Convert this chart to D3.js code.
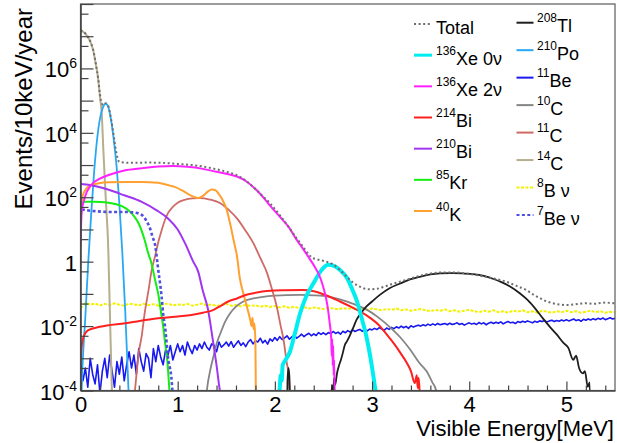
<!DOCTYPE html>
<html>
<head>
<meta charset="utf-8">
<script src="https://cdn.jsdelivr.net/npm/d3@7"></script>
<style>
  body { margin: 0; background: #fff; }
  svg { display: block; }
  text { font-family: "Liberation Sans", Arial, Helvetica, sans-serif; fill: #000; }
</style>
</head>
<body>
<svg id="chart" width="617" height="443"></svg>
<script>
// ---- Spectra: [visible energy (MeV), events / 10 keV / year] ----
const total = [[0,1.5e7],[0.03,1.38e7],[0.06,1.12e7],[0.1,7e6],[0.13,3.8e6],[0.156,1.5e6],[0.183,4.6e5],[0.2,1.6e5],[0.22,8e4],[0.24,7.3e4],[0.26,8.3e4],[0.28,7.5e4],[0.31,3.2e4],[0.34,9000],[0.37,2300],[0.4,1250],[0.5,1180],[0.7,1190],[0.85,1170],[0.95,1110],[1.05,1060],[1.15,1000],[1.26,900],[1.38,760],[1.5,620],[1.61,480],[1.7,330],[1.8,180],[1.88,105],[1.95,65],[2.05,28],[2.15,11],[2.22,5.5],[2.29,2.9],[2.34,1.8],[2.38,1.35],[2.45,1.15],[2.53,1.0],[2.6,0.82],[2.67,0.55],[2.74,0.34],[2.8,0.23],[2.88,0.165],[2.96,0.138],[3.04,0.142],[3.12,0.165],[3.2,0.2],[3.29,0.24],[3.38,0.29],[3.46,0.34],[3.55,0.4],[3.63,0.44],[3.72,0.46],[3.85,0.46],[3.95,0.44],[4.04,0.4],[4.15,0.35],[4.25,0.3],[4.38,0.24],[4.48,0.18],[4.59,0.13],[4.66,0.095],[4.73,0.073],[4.8,0.058],[4.86,0.051],[4.93,0.047],[5.0,0.045],[5.08,0.047],[5.15,0.05],[5.21,0.051],[5.28,0.049],[5.35,0.052],[5.41,0.054],[5.47,0.051],[5.5,0.053]];

const xe136ZeroNu = [[2.02,5e-5],[2.05,1.2e-4],[2.06,3e-4],[2.07,2e-4],[2.08,6e-4],[2.1,8e-4],[2.155,1.6e-3],[2.2,5e-3],[2.26,0.025],[2.32,0.08],[2.4,0.22],[2.47,0.5],[2.55,0.8],[2.6,0.75],[2.64,0.65],[2.7,0.45],[2.74,0.32],[2.8,0.13],[2.84,0.065],[2.9,0.015],[2.94,0.005],[2.99,8e-4],[3.03,1.3e-4],[3.05,5e-5]];

const xe136TwoNu = [[0,3],[0.012,35],[0.045,100],[0.11,240],[0.2,380],[0.29,490],[0.45,680],[0.63,800],[0.8,900],[0.95,930],[1.1,880],[1.26,760],[1.4,620],[1.5,540],[1.61,440],[1.7,320],[1.8,180],[1.88,100],[1.95,55],[2.05,25],[2.15,11],[2.22,5],[2.29,2.5],[2.36,1.2],[2.41,0.7],[2.47,0.3],[2.51,0.12],[2.54,0.045],[2.565,0.012],[2.58,4e-3],[2.585,1.2e-3],[2.59,4e-3],[2.595,6e-4],[2.6,2.5e-3],[2.605,3e-4],[2.61,9e-4],[2.615,1e-4],[2.62,1e-6]];

const bi214 = [[0,7e-4],[0.01,2e-3],[0.03,4.5e-3],[0.08,7.5e-3],[0.2,9.5e-3],[0.46,0.0123],[0.8,0.0174],[1.0,0.02],[1.14,0.022],[1.26,0.026],[1.37,0.032],[1.44,0.042],[1.52,0.058],[1.61,0.072],[1.7,0.092],[1.78,0.105],[1.87,0.118],[1.95,0.126],[2.1,0.13],[2.29,0.132],[2.4,0.12],[2.47,0.105],[2.57,0.08],[2.67,0.058],[2.78,0.04],[2.88,0.028],[2.98,0.018],[3.08,0.01],[3.15,0.0055],[3.22,0.003],[3.29,0.0015],[3.36,7e-4],[3.4,4e-4],[3.44,1.7e-4],[3.46,3e-4],[3.47,1.2e-4],[3.48,2.5e-4],[3.49,8e-5],[3.5,1e-6]];

const bi210 = [[0,260],[0.1,240],[0.29,170],[0.45,115],[0.63,72],[0.78,40],[0.9,22],[1.0,10],[1.08,3.5],[1.16,1.0],[1.21,0.5],[1.26,0.12],[1.31,0.035],[1.36,4e-3],[1.4,6e-4],[1.43,1.2e-4],[1.45,5e-5]];

const kr85 = [[0,40],[0.01,65],[0.05,72],[0.15,72],[0.25,70],[0.355,62],[0.43,52],[0.49,40],[0.55,26],[0.6,15],[0.66,4.7],[0.7,1.7],[0.73,0.9],[0.77,0.25],[0.8,0.1],[0.83,0.025],[0.85,0.01],[0.87,3e-3],[0.89,1.1e-3],[0.91,1.7e-4],[0.92,6e-5]];

const k40 = [[0,20],[0.01,60],[0.03,130],[0.11,240],[0.29,290],[0.5,300],[0.63,300],[0.8,280],[0.92,230],[0.97,210],[1.05,160],[1.1,130],[1.16,105],[1.21,95],[1.26,110],[1.31,150],[1.35,175],[1.39,165],[1.42,130],[1.46,85],[1.5,45],[1.54,15],[1.58,4],[1.61,1.5],[1.64,0.3],[1.67,0.12],[1.7,0.055],[1.73,0.025],[1.75,0.014],[1.76,0.01],[1.77,0.018],[1.78,0.008],[1.79,0.012],[1.8,0.003],[1.805,5e-5]];

const tl208 = [[2.12,1e-6],[2.13,2e-4],[2.14,5e-4],[2.15,2.5e-4],[2.16,1e-6],[2.57,1e-6],[2.585,1.5e-4],[2.6,8e-5],[2.61,2.5e-4],[2.62,1.5e-4],[2.64,3.5e-4],[2.66,6e-4],[2.68,9e-4],[2.7,1.5e-3],[2.72,2.6e-3],[2.74,3.3e-3],[2.77,5e-3],[2.8,8e-3],[2.84,0.0155],[2.89,0.026],[2.94,0.04],[3.0,0.058],[3.08,0.093],[3.18,0.15],[3.29,0.21],[3.39,0.28],[3.49,0.34],[3.6,0.4],[3.7,0.43],[3.82,0.44],[3.93,0.43],[4.04,0.41],[4.15,0.36],[4.25,0.29],[4.32,0.24],[4.42,0.17],[4.52,0.105],[4.6,0.065],[4.69,0.032],[4.76,0.017],[4.83,0.0095],[4.9,0.0055],[4.97,0.003],[5.02,0.0021],[5.07,9e-4],[5.1,1.2e-3],[5.13,5e-4],[5.17,3.4e-4],[5.19,4e-4],[5.22,1.3e-4],[5.24,1.8e-4],[5.25,1e-6]];

const po210 = [[0,1e-5],[0.02,5e-4],[0.05,0.02],[0.08,1],[0.11,30],[0.14,600],[0.17,6000],[0.2,2.7e4],[0.23,6e4],[0.255,8e4],[0.28,7e4],[0.31,3e4],[0.34,7000],[0.37,1000],[0.4,60],[0.43,2],[0.46,0.03],[0.49,2e-4],[0.52,1e-6]];

const c10 = [[1.29,5e-5],[1.3,1e-4],[1.34,5e-4],[1.37,1.2e-3],[1.4,2.8e-3],[1.44,6e-3],[1.49,0.014],[1.54,0.025],[1.6,0.04],[1.67,0.057],[1.78,0.072],[1.88,0.081],[2.0,0.088],[2.12,0.092],[2.26,0.093],[2.4,0.09],[2.55,0.082],[2.67,0.068],[2.8,0.05],[2.94,0.033],[3.05,0.02],[3.18,0.0095],[3.29,0.0045],[3.39,1.9e-3],[3.49,7e-4],[3.56,4e-4],[3.62,1.8e-4],[3.66,1e-4],[3.68,5e-5]];

const c11 = [[0.55,5e-5],[0.56,1e-4],[0.6,1.5e-3],[0.63,5e-3],[0.66,0.025],[0.7,0.13],[0.73,0.5],[0.77,1.6],[0.8,4],[0.835,9.5],[0.87,20],[0.9,32],[0.95,50],[1.0,68],[1.07,83],[1.15,92],[1.23,94],[1.33,85],[1.44,65],[1.52,42],[1.61,22],[1.7,9],[1.78,3.7],[1.85,1.3],[1.92,0.44],[1.97,0.14],[2.02,0.04],[2.06,0.01],[2.09,3.7e-3],[2.12,8e-4],[2.14,3.4e-4],[2.155,1e-4],[2.165,5e-5]];

const c14 = [[0,1.5e7],[0.03,1.35e7],[0.06,1.1e7],[0.1,6.8e6],[0.13,3.7e6],[0.156,1.45e6],[0.183,4.4e5],[0.2,1.3e5],[0.218,4.2e4],[0.235,3.0e3],[0.26,90],[0.286,2.3],[0.3,0.05],[0.321,1.7e-4],[0.33,2e-5]];

const be7Nu = [[0,20],[0.01,42],[0.05,40],[0.15,37],[0.29,35],[0.45,35],[0.53,34],[0.6,31],[0.65,25],[0.69,16],[0.71,12],[0.74,6],[0.77,3],[0.79,1.0],[0.8,0.55],[0.82,0.2],[0.835,0.08],[0.85,0.025],[0.87,0.0095],[0.9,1.1e-3],[0.94,1.7e-4],[0.95,6e-5]];

// Fine-binned spectra, one value per bin starting at 0 MeV
const be11BinWidth = 0.025;
const be11Counts = [
  7.9e-4, 2.0e-4, 5.0e-4, 1.26e-4, 1.0e-3, 3.2e-4, 1.6e-4, 6.3e-4, 8.0e-5, 4.0e-4,
  1.0e-3, 2.5e-4, 1.26e-3, 4.0e-4, 1.26e-4, 7.9e-4, 3.2e-4, 1.1e-3, 2.0e-4, 6.3e-4,
  1.6e-3, 5.0e-4, 1.26e-3, 3.2e-4, 2.0e-3, 7.9e-4, 4.0e-4, 1.4e-3, 1.0e-3, 2.5e-4,
  2.0e-3, 7.9e-4, 2.5e-3, 1.1e-3, 6.3e-4, 1.8e-3, 1.26e-3, 2.5e-3, 8.9e-4, 1.6e-3,
  2.8e-3, 1.6e-3, 2.5e-3, 1.26e-3, 3.2e-3, 2.0e-3, 1.4e-3, 2.5e-3, 1.8e-3, 2.8e-3,
  2.0e-3, 3.2e-3, 2.2e-3, 1.8e-3, 2.8e-3, 2.5e-3, 1.6e-3, 3.2e-3, 2.2e-3, 2.6e-3,
  3.2e-3, 2.4e-3, 3.3e-3, 2.2e-3, 2.8e-3, 3.5e-3, 2.5e-3, 3.0e-3, 2.3e-3, 3.2e-3,
  3.8e-3, 2.8e-3, 3.5e-3, 3.2e-3, 4.2e-3, 3.0e-3, 3.6e-3, 2.75e-3, 4.0e-3, 3.4e-3,
  4.4e-3, 3.6e-3, 4.7e-3, 3.8e-3, 4.3e-3, 5.0e-3, 3.9e-3, 4.6e-3, 5.2e-3, 4.2e-3,
  4.8e-3, 5.6e-3, 4.7e-3, 5.4e-3, 6.0e-3, 5.0e-3, 5.75e-3, 5.1e-3, 6.3e-3, 5.5e-3,
  6.2e-3, 5.4e-3, 6.3e-3, 5.75e-3, 6.8e-3, 5.9e-3, 6.5e-3, 5.6e-3, 6.9e-3, 6.2e-3,
  7.2e-3, 6.5e-3, 7.6e-3, 6.8e-3, 7.4e-3, 7.9e-3, 6.9e-3, 7.8e-3, 7.1e-3, 8.1e-3,
  7.6e-3, 8.5e-3, 7.8e-3, 8.9e-3, 8.1e-3, 7.4e-3, 8.7e-3, 7.9e-3, 9.1e-3, 8.3e-3,
  9.5e-3, 8.7e-3, 1.0e-2, 8.9e-3, 9.8e-3, 8.5e-3, 1.02e-2, 9.3e-3, 1.0e-2, 1.07e-2,
  1.0e-2, 1.1e-2, 1.02e-2, 1.15e-2, 1.05e-2, 1.17e-2, 1.07e-2, 1.2e-2, 1.1e-2, 1.15e-2,
  1.2e-2, 1.1e-2, 1.23e-2, 1.12e-2, 1.17e-2, 1.26e-2, 1.12e-2, 1.2e-2, 1.07e-2, 1.17e-2,
  1.26e-2, 1.15e-2, 1.23e-2, 1.12e-2, 1.29e-2, 1.17e-2, 1.26e-2, 1.1e-2, 1.23e-2, 1.32e-2,
  1.2e-2, 1.32e-2, 1.23e-2, 1.35e-2, 1.17e-2, 1.29e-2, 1.38e-2, 1.26e-2, 1.32e-2, 1.2e-2,
  1.38e-2, 1.29e-2, 1.41e-2, 1.32e-2, 1.45e-2, 1.35e-2, 1.26e-2, 1.41e-2, 1.32e-2, 1.45e-2,
  1.38e-2, 1.48e-2, 1.35e-2, 1.45e-2, 1.51e-2, 1.38e-2, 1.48e-2, 1.41e-2, 1.55e-2, 1.45e-2,
  1.58e-2, 1.45e-2, 1.55e-2, 1.66e-2, 1.48e-2, 1.58e-2, 1.41e-2, 1.62e-2, 1.51e-2, 1.66e-2,
  1.55e-2, 1.7e-2, 1.58e-2, 1.74e-2, 1.62e-2, 1.78e-2, 1.58e-2, 1.7e-2, 1.82e-2, 1.66e-2,
  1.74e-2
];
const b8BinWidth = 0.05;
const b8NuCounts = [
  0.035, 0.052, 0.046, 0.05, 0.044, 0.049, 0.045, 0.051, 0.046, 0.043,
  0.05, 0.047, 0.044, 0.049, 0.045, 0.048, 0.043, 0.047, 0.05, 0.044,
  0.047, 0.045, 0.049, 0.043, 0.046, 0.05, 0.044, 0.047, 0.042, 0.046,
  0.049, 0.043, 0.045, 0.041, 0.046, 0.042, 0.044, 0.04, 0.043, 0.039,
  0.042, 0.038, 0.041, 0.037, 0.04, 0.036, 0.039, 0.035, 0.038, 0.036,
  0.034, 0.037, 0.035, 0.033, 0.036, 0.034, 0.037, 0.033, 0.035, 0.032,
  0.035, 0.033, 0.031, 0.034, 0.032, 0.035, 0.031, 0.033, 0.03, 0.032,
  0.034, 0.031, 0.029, 0.032, 0.03, 0.033, 0.029, 0.031, 0.028, 0.03,
  0.032, 0.029, 0.027, 0.03, 0.028, 0.031, 0.027, 0.029, 0.026, 0.03,
  0.028, 0.031, 0.027, 0.029, 0.026, 0.03, 0.028, 0.026, 0.029, 0.027,
  0.03, 0.027, 0.029, 0.026, 0.028, 0.03, 0.027, 0.029, 0.026, 0.028,
  0.027
];

// Axis ticks and labels
const xMajorTicks = [0, 1, 2, 3, 4, 5];
const xTickLabels = ["0", "1", "2", "3", "4", "5"];
const yDecadeExponents = d3.range(-4, 9);
const yLabelExponents = [-4, -2, 0, 2, 4, 6];

// ---- Series styling ----
const binned = (counts, width) => counts.map((v, i) => [i * width, v]);

const series = {
  total:  { data: total,        color: "#6e6e6e", width: 2,   dash: "2,2.6", smooth: true,  sup: "",    name: "Total" },
  xe0v:   { data: xe136ZeroNu,  color: "#00eef0", width: 4,   dash: null,    smooth: true,  sup: "136", name: "Xe 0ν" },
  xe2v:   { data: xe136TwoNu,   color: "#ff22ff", width: 2,   dash: null,    smooth: true,  sup: "136", name: "Xe 2ν" },
  bi214:  { data: bi214,        color: "#ff2020", width: 2,   dash: null,    smooth: true,  sup: "214", name: "Bi" },
  bi210:  { data: bi210,        color: "#a036f0", width: 2,   dash: null,    smooth: true,  sup: "210", name: "Bi" },
  kr85:   { data: kr85,         color: "#14ee14", width: 2,   dash: null,    smooth: true,  sup: "85",  name: "Kr" },
  k40:    { data: k40,          color: "#ffa030", width: 2,   dash: null,    smooth: true,  sup: "40",  name: "K" },
  tl208:  { data: tl208,        color: "#1e1e1e", width: 1.8, dash: null,    smooth: true,  sup: "208", name: "Tl" },
  po210:  { data: po210,        color: "#28a8f4", width: 1.8, dash: null,    smooth: true,  sup: "210", name: "Po" },
  be11:   { data: binned(be11Counts, be11BinWidth), color: "#1818f0", width: 1.6, dash: null, smooth: false, sup: "11", name: "Be" },
  c10:    { data: c10,          color: "#858585", width: 1.8, dash: null,    smooth: true,  sup: "10",  name: "C" },
  c11:    { data: c11,          color: "#cf6a66", width: 1.8, dash: null,    smooth: true,  sup: "11",  name: "C" },
  c14:    { data: c14,          color: "#b6ae8c", width: 2,   dash: null,    smooth: true,  sup: "14",  name: "C" },
  b8:     { data: binned(b8NuCounts, b8BinWidth), color: "#f2f200", width: 2, dash: "3,1.5", smooth: false, sup: "8", name: "B ν" },
  be7:    { data: be7Nu,        color: "#5050e0", width: 2.6, dash: "3,2.4", smooth: true,  sup: "7",   name: "Be ν" }
};

const drawOrder = ["b8", "be11", "c10", "c11", "c14", "po210", "tl208", "k40", "kr85", "be7", "bi210", "bi214", "xe0v", "xe2v", "total"];
const legendLeft = ["total", "xe0v", "xe2v", "bi214", "bi210", "kr85", "k40"];
const legendRight = ["tl208", "po210", "be11", "c10", "c11", "c14", "b8", "be7"];

// ---- Scales ----
const plot = { left: 80.5, right: 615, top: 4, bottom: 390.5 };
const x = d3.scaleLinear().domain([0, 5.5]).range([plot.left, plot.right]);
const y = d3.scaleLog().domain([1e-4, 1e8]).range([plot.bottom, plot.top]);

const svg = d3.select("#chart");
svg.append("rect").attr("width", 617).attr("height", 443).attr("fill", "#fff");

svg.append("defs").append("clipPath").attr("id", "plot-area")
  .append("rect")
  .attr("x", plot.left).attr("y", plot.top)
  .attr("width", plot.right - plot.left).attr("height", plot.bottom - plot.top);

// ---- Curves ----
const lineFor = smooth => d3.line()
  .x(d => x(d[0]))
  .y(d => y(Math.max(d[1], 1e-7)))
  .curve(smooth ? d3.curveMonotoneX : d3.curveLinear);

const curves = svg.append("g").attr("clip-path", "url(#plot-area)");
drawOrder.forEach(key => {
  const s = series[key];
  curves.append("path")
    .datum(s.data)
    .attr("d", lineFor(s.smooth))
    .attr("fill", "none")
    .attr("stroke", s.color)
    .attr("stroke-width", s.width)
    .attr("stroke-linejoin", "round")
    .attr("stroke-dasharray", s.dash);
});

// ---- Frame ----
svg.append("rect")
  .attr("x", plot.left).attr("y", plot.top)
  .attr("width", plot.right - plot.left).attr("height", plot.bottom - plot.top)
  .attr("fill", "none").attr("stroke", "#5a5a5a").attr("stroke-width", 1.2);

// ---- X axis ----
const xMinor = d3.range(0, 28).map(i => i * 0.2).filter(v => v <= 5.5 && !xMajorTicks.some(m => Math.abs(m - v) < 1e-6));
const xAxisG = svg.append("g").attr("transform", `translate(0,${plot.bottom})`);
xAxisG.call(d3.axisBottom(x).tickValues(xMinor).tickSize(-5).tickSizeOuter(0).tickFormat(""));
xAxisG.call(g => g.select(".domain").remove());
const xMajorG = svg.append("g").attr("transform", `translate(0,${plot.bottom})`);
xMajorG.call(d3.axisBottom(x).tickValues(xMajorTicks).tickSize(-9).tickSizeOuter(0).tickPadding(6)
  .tickFormat((d, i) => xTickLabels[i]));
xMajorG.select(".domain").attr("stroke", "#444").attr("stroke-width", 1.6);
xMajorG.selectAll("text").style("font-size", "22px").attr("fill", "#000")
  .style("font-family", "'Liberation Sans', Arial, sans-serif");

// ---- Y axis ----
const yMajor = yDecadeExponents.map(n => Math.pow(10, n));
const yMinor = yDecadeExponents.slice(0, -1).map(n => 5 * Math.pow(10, n));
const yAxisG = svg.append("g").attr("transform", `translate(${plot.left},0)`);
yAxisG.call(d3.axisLeft(y).tickValues(yMinor).tickSize(-8).tickSizeOuter(0).tickFormat(""));
yAxisG.call(g => g.select(".domain").remove());
const yMajorG = svg.append("g").attr("transform", `translate(${plot.left},0)`);
yMajorG.call(d3.axisLeft(y).tickValues(yMajor).tickSize(-13).tickSizeOuter(0).tickFormat(""));
yMajorG.select(".domain").attr("stroke", "#444").attr("stroke-width", 1.6);
svg.selectAll(".tick line").attr("stroke", "#444").attr("stroke-width", 1.2);

const yLabels = svg.append("g");
yLabelExponents.forEach(n => {
  const t = yLabels.append("text")
    .attr("x", 77)
    .attr("y", y(Math.pow(10, n)) + 9)
    .attr("text-anchor", "end")
    .style("font-size", "22px");
  if (n === 0) {
    t.text("1");
  } else {
    t.append("tspan").text("10");
    t.append("tspan").attr("dy", -9).style("font-size", "14px").text(n);
  }
});

// ---- Axis titles ----
svg.append("text")
  .attr("x", 614).attr("y", 436)
  .attr("text-anchor", "end")
  .style("font-size", "22px")
  .text("Visible Energy[MeV]");

svg.append("text")
  .attr("transform", "translate(31.5,8) rotate(-90)")
  .attr("text-anchor", "end")
  .style("font-size", "24px")
  .text("Events/10keV/year");

// ---- Legend ----
const legend = svg.append("g");
function legendColumn(keys, rowRange, lineX0, lineX1, textX) {
  const row = d3.scalePoint().domain(keys).range(rowRange);
  keys.forEach(key => {
    const s = series[key];
    const ly = row(key);
    legend.append("line")
      .attr("x1", lineX0).attr("x2", lineX1)
      .attr("y1", ly).attr("y2", ly)
      .attr("stroke", s.color)
      .attr("stroke-width", key === "xe0v" ? 3 : 2)
      .attr("stroke-dasharray", s.dash);
    const t = legend.append("text")
      .attr("x", textX).attr("y", ly + 9.5)
      .style("font-size", "18px");
    if (s.sup) {
      t.append("tspan").attr("dy", -10).style("font-size", "12px").text(s.sup);
      t.append("tspan").attr("dy", 10).text(s.name);
    } else {
      t.text(s.name);
    }
  });
}
legendColumn(legendLeft, [24, 211], 414, 432, 436);
legendColumn(legendRight, [22.7, 215], 516.5, 533.5, 537);
</script>
</body>
</html>
